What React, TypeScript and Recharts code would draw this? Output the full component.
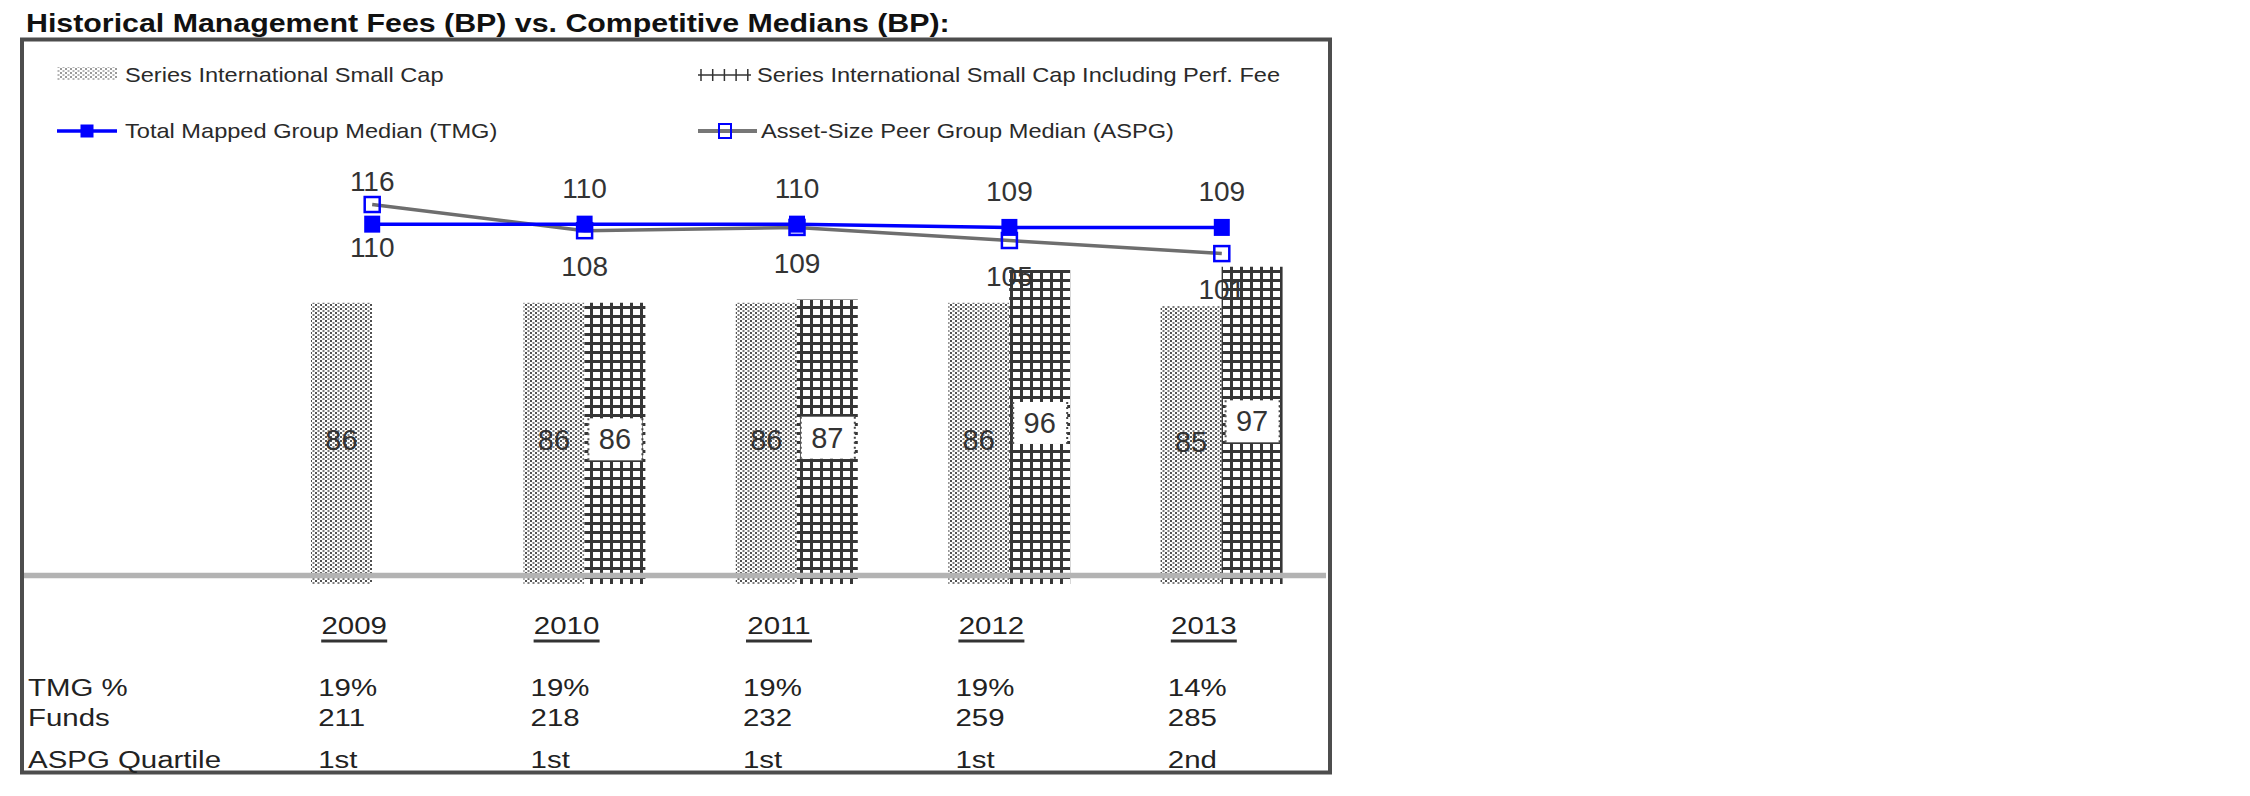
import React from 'react';
import { ComposedChart, Bar, Line, XAxis, YAxis, LabelList } from 'recharts';

// ---------- data ----------
const categories = ['2009', '2010', '2011', '2012', '2013'];
const smallCapFees = [86, 86, 86, 86, 85];
const perfFeeFees = [null, 86, 87, 96, 97];
const tmgMedians = [110, 110, 110, 109, 109];
const aspgMedians = [116, 108, 109, 105, 101];
const tmgPercents = ['19%', '19%', '19%', '19%', '14%'];
const fundCounts = ['211', '218', '232', '259', '285'];
const aspgQuartiles = ['1st', '1st', '1st', '1st', '2nd'];
const rowLabels = ['TMG %', 'Funds', 'ASPG Quartile'];
const seriesNames = [
  'Series International Small Cap',
  'Series International Small Cap Including Perf. Fee',
  'Total Mapped Group Median (TMG)',
  'Asset-Size Peer Group Median (ASPG)',
];
const chartTitle = 'Historical Management Fees (BP) vs. Competitive Medians (BP):';

const data = categories.map((year, i) => ({
  year,
  smallCap: smallCapFees[i],
  perfFee: perfFeeFees[i],
  tmg: tmgMedians[i],
  aspg: aspgMedians[i],
}));

// ---------- styling ----------
const FONT = "'Liberation Sans', Arial, Helvetica, sans-serif";
const W = 2250;
const H = 796;
const BLUE = '#0000ff';

const SText = ({ x, y, sx = 1, anchor = 'start', size, weight = 'normal', fill = '#222', baseline = 'central', children }: any) => (
  <text
    transform={`translate(${x},${y}) scale(${sx},1)`}
    textAnchor={anchor}
    dominantBaseline={baseline}
    fontSize={size}
    fontWeight={weight}
    fill={fill}
    fontFamily={FONT}
  >
    {children}
  </text>
);

const getBox = (p: any) => {
  const vb = p.viewBox || {};
  return {
    x: vb.x ?? p.x,
    y: vb.y ?? p.y,
    width: vb.width ?? p.width ?? 0,
    height: vb.height ?? p.height ?? 0,
  };
};

const SmallCapLabel = (p: any) => {
  if (p.value == null) return null;
  const b = getBox(p);
  const cx = b.x + b.width / 2;
  const cy = b.y + b.height / 2 - 3;
  return (
    <text x={cx} y={cy} textAnchor="middle" dominantBaseline="central" fontSize={29} fontFamily={FONT} fill="#333">
      {p.value}
    </text>
  );
};

const PerfFeeLabel = (p: any) => {
  if (p.value == null) return null;
  const b = getBox(p);
  const cx = b.x + b.width / 2;
  const cy = b.y + b.height / 2 - 4;
  const left = b.x + 4;
  const right = b.x + b.width - 3;
  return (
    <g>
      <rect x={left} y={cy - 21} width={right - left} height={42} fill="#fff" />
      <line x1={left} x2={left} y1={cy - 21} y2={cy + 21} stroke="#555" strokeWidth={2} strokeDasharray="2 3" />
      <line x1={right} x2={right} y1={cy - 21} y2={cy + 21} stroke="#444" strokeWidth={2} strokeDasharray="2 3" />
      <text x={cx} y={cy} textAnchor="middle" dominantBaseline="central" fontSize={29} fontFamily={FONT} fill="#333">
        {p.value}
      </text>
    </g>
  );
};

const makeLineLabel = (own: number[], other: number[], isAspg: boolean) => (p: any) => {
  const i = p.index;
  const b = getBox(p);
  const above = own[i] > other[i] || (own[i] === other[i] && !isAspg);
  const gap = aspgMedians[i] > tmgMedians[i] ? 23 : 36;
  return (
    <text
      x={b.x}
      y={above ? b.y - gap : b.y + gap}
      textAnchor="middle"
      dominantBaseline="central"
      fontSize={28}
      fontFamily={FONT}
      fill="#333"
    >
      {own[i]}
    </text>
  );
};

const TmgLabel = makeLineLabel(tmgMedians, aspgMedians, false);
const AspgLabel = makeLineLabel(aspgMedians, tmgMedians, true);

const TmgDot = (p: any) => (
  <rect key={`tmg-dot-${p.index}`} x={p.cx - 8} y={p.cy - 8.5} width={16} height={17} fill={BLUE} />
);
const AspgDot = (p: any) => (
  <rect key={`aspg-dot-${p.index}`} x={p.cx - 7.5} y={p.cy - 7.5} width={15} height={15} fill="none" stroke={BLUE} strokeWidth={2.5} />
);

const rowOffsets = [104, 134, 176];

const TableTick = (p: any) => {
  const value = p.payload ? p.payload.value : '';
  const i = categories.indexOf(value);
  if (i < 0) return null;
  const x = p.x;
  const y = p.y;
  const yearX = x - 18;
  const valX = x - 54;
  const cells = [tmgPercents[i], fundCounts[i], aspgQuartiles[i]];
  return (
    <g>
      <SText x={yearX} y={y + 42} anchor="middle" size={23} sx={1.28}>
        {categories[i]}
      </SText>
      <line x1={yearX - 33} x2={yearX + 33} y1={y + 57} y2={y + 57} stroke="#333" strokeWidth={3} />
      {cells.map((c, r) => (
        <SText key={r} x={valX} y={y + rowOffsets[r]} size={23} sx={1.28}>
          {c}
        </SText>
      ))}
    </g>
  );
};

const Overlay = () => (
  <svg
    width={W}
    height={H}
    style={{ position: 'absolute', left: 0, top: 0, pointerEvents: 'none' }}
  >
    <defs>
      <pattern id="dotFill" width="5" height="4" patternUnits="userSpaceOnUse">
        <rect width="5" height="4" fill="#fff" />
        <rect x="0" y="0" width="2" height="2" fill="#505050" />
        <rect x="2.5" y="2" width="2" height="2" fill="#7a7a7a" />
      </pattern>
      <pattern id="dotLight" width="5" height="4" patternUnits="userSpaceOnUse">
        <rect width="5" height="4" fill="#fff" />
        <rect x="0" y="0" width="2" height="2" fill="#9a9a9a" />
        <rect x="2.5" y="2" width="2" height="2" fill="#b5b5b5" />
      </pattern>
      <pattern id="gridFill" width="10" height="9" patternUnits="userSpaceOnUse">
        <rect width="10" height="9" fill="#fff" />
        <rect x="0" y="0" width="10" height="3" fill="#363636" />
        <rect x="0" y="0" width="3" height="9" fill="#363636" />
      </pattern>
    </defs>

    {/* title */}
    <SText x={26} y={31.7} size={25.5} weight="bold" sx={1.19} fill="#111" baseline="alphabetic">
      {chartTitle}
    </SText>

    {/* frame */}
    <rect x={22} y={39.5} width={1308} height={733} fill="none" stroke="#4d4d4d" strokeWidth={4} />

    {/* baseline */}
    <line x1={24} x2={1326} y1={575.5} y2={575.5} stroke="#b3b3b3" strokeWidth={5.5} />

    {/* legend */}
    <rect x={57} y={67} width={60} height={13} fill="url(#dotLight)" />
    <SText x={125} y={75} size={20} sx={1.18} fill="#2a2a2a">{seriesNames[0]}</SText>

    <line x1={698} x2={751} y1={75} y2={75} stroke="#333" strokeWidth={1.5} />
    {[0, 1, 2, 3, 4].map((k) => (
      <line key={k} x1={701 + k * 11.7} x2={701 + k * 11.7} y1={69} y2={81} stroke="#333" strokeWidth={1.5} />
    ))}
    <SText x={757} y={75} size={20} sx={1.18} fill="#2a2a2a">{seriesNames[1]}</SText>

    <line x1={57} x2={117} y1={131} y2={131} stroke={BLUE} strokeWidth={3.5} />
    <rect x={80.5} y={124.5} width={13} height={13} fill={BLUE} />
    <SText x={125} y={131.5} size={20} sx={1.18} fill="#2a2a2a">{seriesNames[2]}</SText>

    <line x1={698} x2={757} y1={131} y2={131} stroke="#777" strokeWidth={4} />
    <rect x={719} y={124} width={12} height={14} fill="none" stroke={BLUE} strokeWidth={2} />
    <SText x={761} y={131.5} size={20} sx={1.18} fill="#2a2a2a">{seriesNames[3]}</SText>

    {/* table row labels */}
    {rowLabels.map((t, r) => (
      <SText key={t} x={28} y={584 + rowOffsets[r]} size={23} sx={1.28}>
        {t}
      </SText>
    ))}
  </svg>
);

export default function App() {
  return (
    <div style={{ position: 'relative', width: W, height: H, background: '#fff' }}>
      <style>{'html,body{margin:0;padding:0;background:#fff;}'}</style>
      <ComposedChart
        width={W}
        height={H}
        data={data}
        margin={{ top: 126, right: 922, bottom: 0, left: 266 }}
        barSize={61}
        barGap={0}
      >
        <XAxis
          dataKey="year"
          height={212}
          axisLine={false}
          tickLine={false}
          tickSize={0}
          tickMargin={0}
          interval={0}
          tick={<TableTick />}
        />
        <YAxis hide domain={[0, 140]} type="number" width={0} />
        <Bar dataKey="smallCap" fill="url(#dotFill)" isAnimationActive={false}>
          <LabelList dataKey="smallCap" content={<SmallCapLabel />} />
        </Bar>
        <Bar dataKey="perfFee" fill="url(#gridFill)" isAnimationActive={false}>
          <LabelList dataKey="perfFee" content={<PerfFeeLabel />} />
        </Bar>
        <Line
          dataKey="aspg"
          stroke="#6e6e6e"
          strokeWidth={3.5}
          dot={AspgDot}
          activeDot={false}
          isAnimationActive={false}
        >
          <LabelList dataKey="aspg" content={<AspgLabel />} />
        </Line>
        <Line
          dataKey="tmg"
          stroke={BLUE}
          strokeWidth={3.5}
          dot={TmgDot}
          activeDot={false}
          isAnimationActive={false}
        >
          <LabelList dataKey="tmg" content={<TmgLabel />} />
        </Line>
      </ComposedChart>
      <Overlay />
    </div>
  );
}
